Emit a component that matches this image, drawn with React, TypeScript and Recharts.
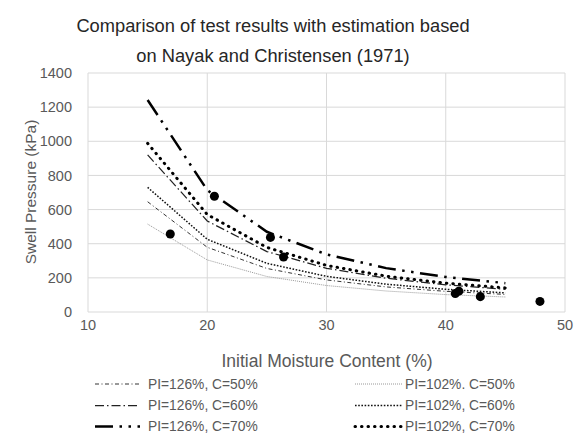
import React from 'react';
import { ComposedChart, Line, Scatter, XAxis, YAxis, CartesianGrid } from 'recharts';

// ---- data ----
const moisture = [15, 20, 25, 30, 35, 40, 45];
const pi126c50 = [646, 379, 255, 188, 147, 121, 103];
const pi126c60 = [920, 533, 354, 256, 198, 159, 133];
const pi126c70 = [1242, 714, 470, 337, 257, 205, 169];
const pi102c50 = [515, 305, 208, 155, 123, 102, 88];
const pi102c60 = [730, 426, 285, 209, 163, 133, 112];
const pi102c70 = [988, 571, 378, 273, 210, 169, 141];

const observedMoisture = [16.9, 20.6, 25.3, 26.4, 40.8, 41.1, 42.9, 47.9];
const observedSwell = [457, 678, 437, 322, 108, 122, 90, 62];

const xTicks = [10, 20, 30, 40, 50];
const yTicks = [0, 200, 400, 600, 800, 1000, 1200, 1400];

const titleLines = ['Comparison of test results with estimation based', 'on Nayak and Christensen (1971)'];
const xTitle = 'Initial Moisture Content (%)';
const yTitle = 'Swell Pressure (kPa)';

type Series = {
  name: string;
  values: number[];
  stroke: string;
  width: number;
  dash: string;
  cap: 'butt' | 'round' | 'square';
  col: number;
  row: number;
};

const series: Series[] = [
  { name: 'PI=126%, C=50%', values: pi126c50, stroke: '#333333', width: 1, dash: '4 2.5 1 2.5', cap: 'butt', col: 0, row: 0 },
  { name: 'PI=126%, C=60%', values: pi126c60, stroke: '#222222', width: 1.25, dash: '9 3 1.5 3', cap: 'butt', col: 0, row: 1 },
  { name: 'PI=126%, C=70%', values: pi126c70, stroke: '#000000', width: 2.5, dash: '18 6.5 2.5 6.5 2.5 6.5', cap: 'butt', col: 0, row: 2 },
  { name: 'PI=102%. C=50%', values: pi102c50, stroke: '#7f7f7f', width: 0.8, dash: '1 1', cap: 'butt', col: 1, row: 0 },
  { name: 'PI=102%, C=60%', values: pi102c60, stroke: '#111111', width: 1.5, dash: '1.6 1.6', cap: 'butt', col: 1, row: 1 },
  { name: 'PI=102%, C=70%', values: pi102c70, stroke: '#000000', width: 3, dash: '0.5 6', cap: 'round', col: 1, row: 2 },
];

const observed = observedMoisture.map((m, i) => ({ x: m, y: observedSwell[i] }));

const FONT = '"Liberation Sans", Arial, sans-serif';
const TEXT = '#595959';

const W = 580;
const H = 433;

const legendCols = [
  { lineX1: 95, lineX2: 140, textX: 148 },
  { lineX1: 355, lineX2: 402, textX: 405 },
];
const legendRows = [384, 405.5, 426.5];

export default function App() {
  return (
    <div style={{ position: 'fixed', left: 0, top: 0, width: W, height: H, background: '#fff' }}>
      <ComposedChart
        width={W}
        height={H}
        margin={{ top: 73, right: 15, bottom: 91, left: 28 }}
        style={{ fontFamily: FONT }}
      >
        <CartesianGrid stroke="#d9d9d9" strokeWidth={1} />
        <XAxis
          type="number"
          dataKey="x"
          domain={[10, 50]}
          ticks={xTicks}
          allowDataOverflow
          axisLine={false}
          tickLine={false}
          tickMargin={2}
          height={30}
          tick={{ fill: TEXT, fontSize: 14.5, fontFamily: FONT }}
        />
        <YAxis
          type="number"
          domain={[0, 1400]}
          ticks={yTicks}
          axisLine={false}
          tickLine={false}
          tickMargin={10}
          width={60}
          tick={{ fill: TEXT, fontSize: 14.5, fontFamily: FONT }}
        />
        {series.map((s) => (
          <Line
            key={s.name}
            data={moisture.map((m, i) => ({ x: m, y: s.values[i] }))}
            dataKey="y"
            type="linear"
            stroke={s.stroke}
            strokeWidth={s.width}
            strokeDasharray={s.dash}
            strokeLinecap={s.cap}
            dot={false}
            activeDot={false}
            isAnimationActive={false}
          />
        ))}
        <Scatter data={observed} dataKey="y" fill="#000000" isAnimationActive={false} />
      </ComposedChart>
      <svg
        width={W}
        height={H}
        style={{ position: 'absolute', left: 0, top: 0, pointerEvents: 'none', fontFamily: FONT }}
      >
        {titleLines.map((t, i) => (
          <text key={t} x={273} y={31.5 + i * 30} textAnchor="middle" fontSize={18.3} fill="#262626">
            {t}
          </text>
        ))}
        <text x={327} y={367} textAnchor="middle" fontSize={17.5} fill={TEXT}>
          {xTitle}
        </text>
        <text
          x={0}
          y={0}
          transform="translate(36,192) rotate(-90)"
          textAnchor="middle"
          fontSize={15.5}
          fill={TEXT}
        >
          {yTitle}
        </text>
        {series.map((s) => {
          const c = legendCols[s.col];
          const y = legendRows[s.row];
          return (
            <g key={s.name}>
              <line
                x1={c.lineX1}
                x2={c.lineX2}
                y1={y}
                y2={y}
                stroke={s.stroke}
                strokeWidth={s.width}
                strokeDasharray={s.dash}
                strokeLinecap={s.cap}
              />
              <text x={c.textX} y={y + 4.5} fontSize={13.8} fill={TEXT}>
                {s.name}
              </text>
            </g>
          );
        })}
      </svg>
    </div>
  );
}
